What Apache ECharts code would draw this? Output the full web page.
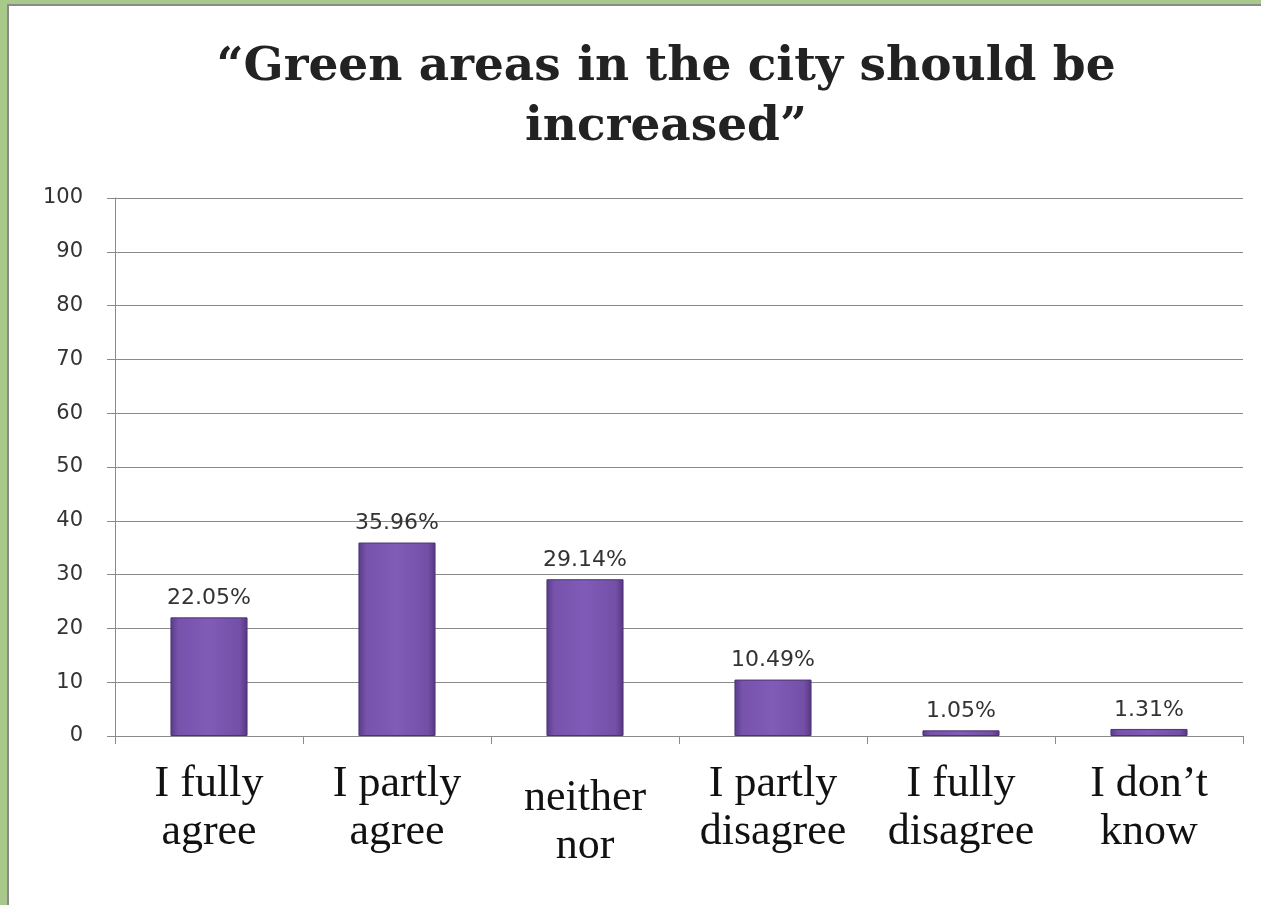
<!DOCTYPE html>
<html>
<head>
<meta charset="utf-8">
<script src="https://cdn.jsdelivr.net/npm/echarts@6/dist/echarts.min.js"></script>
<style>
html,body{margin:0;padding:0;width:1261px;height:905px;overflow:hidden;background:#a9c98b;}
#panel{position:absolute;left:7px;top:4px;width:1270px;height:920px;background:#fff;border-left:2px solid #8a8a8a;border-top:2px solid #8a8a8a;}
#chart{position:absolute;left:0;top:0;width:1261px;height:905px;}
</style>
</head>
<body>
<div id="panel"></div>
<div id="chart"></div>
<script>
const titleText = '\u201cGreen areas in the city should be\nincreased\u201d';
const categories = ['I fully\nagree', 'I partly\nagree', 'neither\nnor', 'I partly\ndisagree', 'I fully\ndisagree', 'I don\u2019t\nknow'];
const values = [22.05, 35.96, 29.14, 10.49, 1.05, 1.31];
const valueLabels = ['22.05%', '35.96%', '29.14%', '10.49%', '1.05%', '1.31%'];
const yTicks = [0, 10, 20, 30, 40, 50, 60, 70, 80, 90, 100];

const chart = echarts.init(document.getElementById('chart'), null, {renderer: 'canvas'});
const barColor = new echarts.graphic.LinearGradient(0, 0, 1, 0, [
  {offset: 0, color: '#5a3b88'},
  {offset: 0.1, color: '#7753ab'},
  {offset: 0.5, color: '#805bb8'},
  {offset: 0.9, color: '#7350a6'},
  {offset: 1, color: '#553780'}
]);
chart.setOption({
  animation: false,
  backgroundColor: 'transparent',
  title: {
    text: titleText,
    left: 661, textAlign: 'center',
    top: 33,
    textStyle: {fontFamily: 'DejaVu Serif', fontWeight: 'bold', fontSize: 47, lineHeight: 60, color: '#222'}
  },
  grid: {left: 115, right: 18, top: 198, bottom: 169, containLabel: false},
  xAxis: {
    type: 'category',
    data: categories.map((c, i) => i === 2 ? {value: c, textStyle: {padding: [14, 0, 0, 0]}} : c),
    axisLine: {lineStyle: {color: '#8a8a8a', width: 1}},
    axisTick: {show: true, length: 8, lineStyle: {color: '#8a8a8a'}},
    axisLabel: {fontFamily: 'Liberation Serif', fontSize: 44, lineHeight: 48, color: '#111', margin: 24, interval: 0}
  },
  yAxis: {
    type: 'value', min: 0, max: 100, interval: 10,
    axisLine: {show: true, lineStyle: {color: '#8a8a8a', width: 1}},
    axisTick: {show: true, length: 8, lineStyle: {color: '#8a8a8a'}},
    splitLine: {lineStyle: {color: '#8a8a8a', width: 1}},
    axisLabel: {fontFamily: 'DejaVu Sans', fontSize: 21, color: '#333', margin: 32,
      formatter: v => yTicks.includes(v) ? String(v) : ''}
  },
  series: [{
    type: 'bar',
    data: values,
    barWidth: '41%',
    itemStyle: {color: barColor, borderColor: '#4e3376', borderWidth: 1},
    label: {show: true, position: 'top', distance: 8, fontFamily: 'DejaVu Sans', fontSize: 22, color: '#333',
      formatter: p => valueLabels[p.dataIndex]}
  }]
});
</script>
</body>
</html>
